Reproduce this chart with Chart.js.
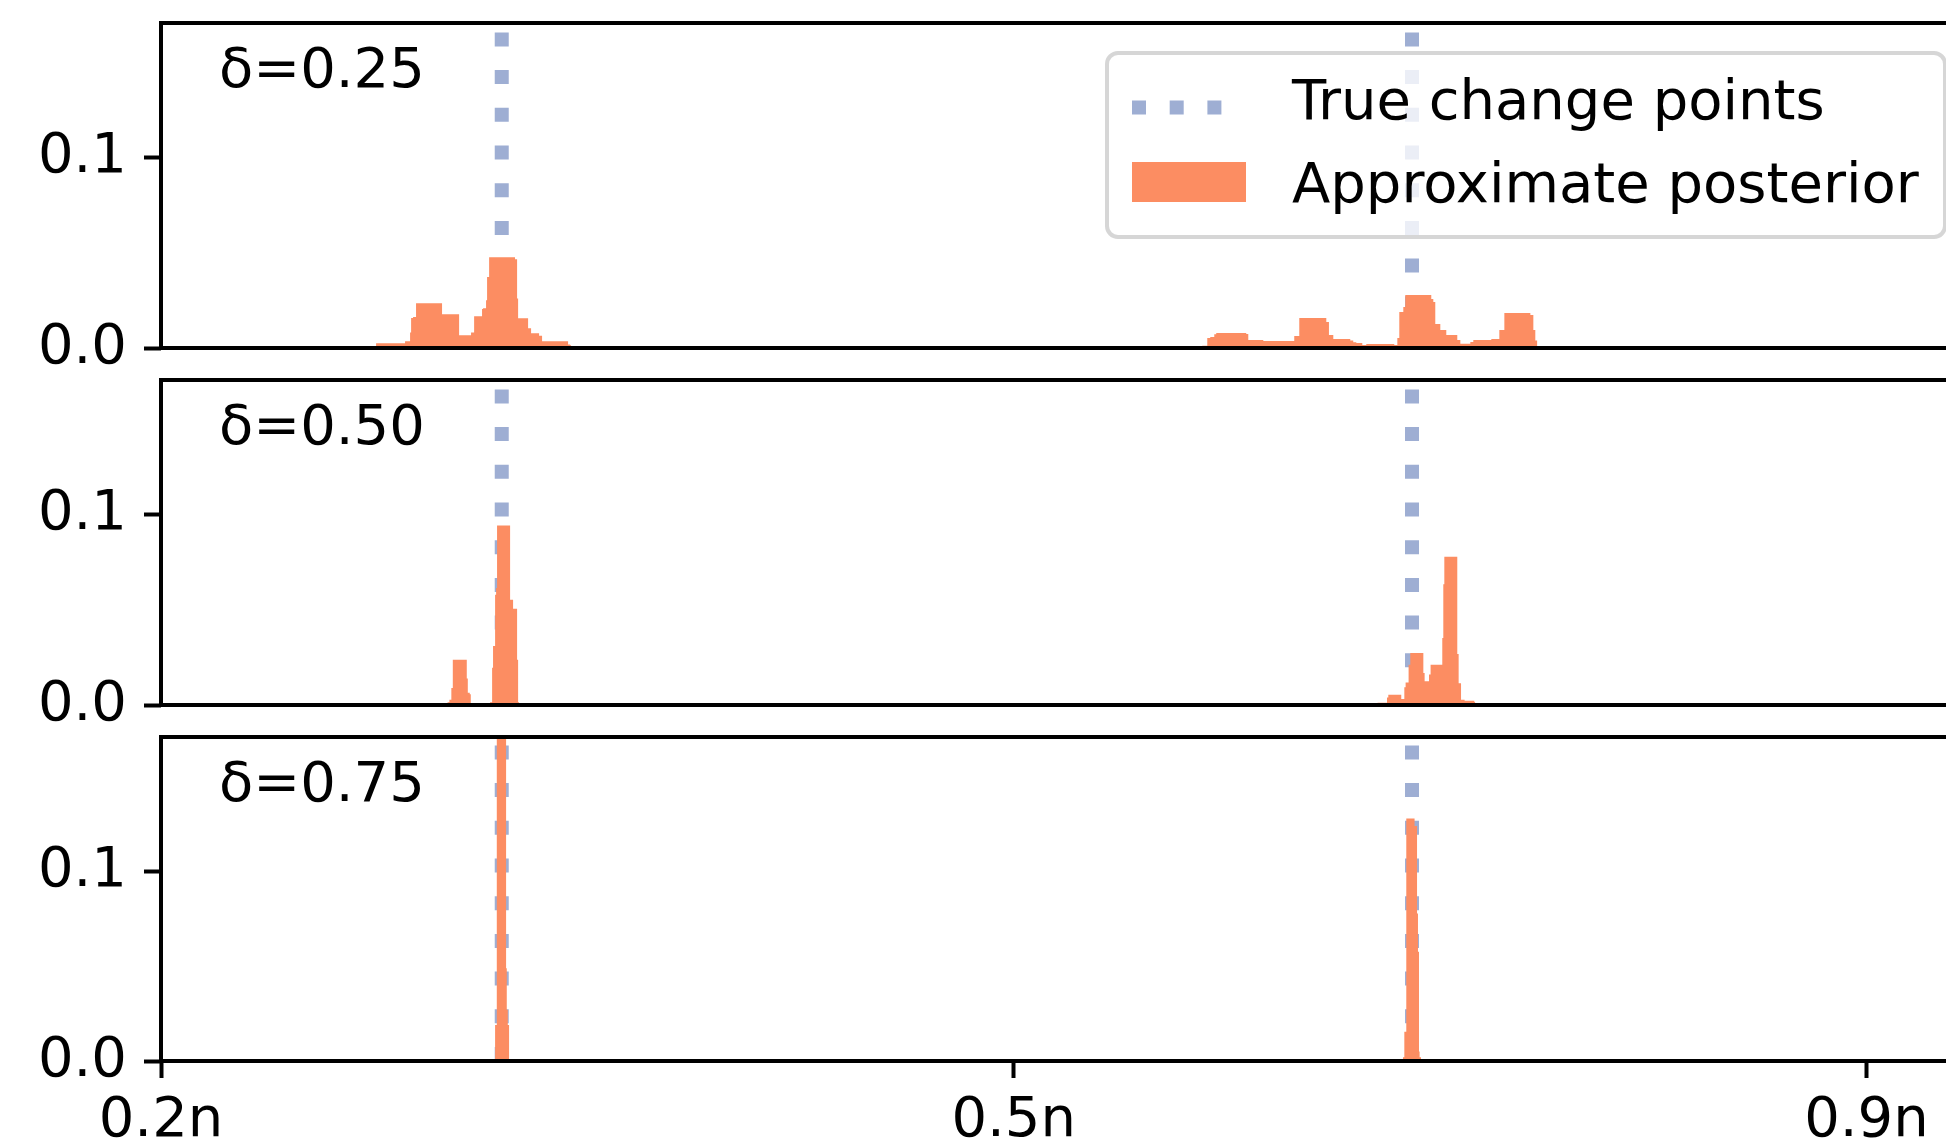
<!DOCTYPE html>
<html>
<head>
<meta charset="utf-8">
<script src="https://cdn.jsdelivr.net/npm/chart.js@4.4.1/dist/chart.umd.min.js"></script>
<style>
  html, body { margin: 0; padding: 0; background: #fff; overflow: hidden; width: 1946px; height: 1145px; }
  .panel { position: absolute; left: 0; }
</style>
</head>
<body>
<div class="panel" style="top:-37px"><canvas id="p0" width="1973" height="445"></canvas></div>
<div class="panel" style="top:320px"><canvas id="p1" width="1973" height="445"></canvas></div>
<div class="panel" style="top:677px"><canvas id="p2" width="1973" height="484"></canvas></div>
<script>
// x axis runs in position units: 0.2n -> 0, 0.5n -> 100, 0.9n -> 200
const xTickPos = [0, 100, 200];
const xTickLabels = ['0.2n', '0.5n', '0.9n'];
const yTicks = [0.0, 0.1];
const deltaLabels = ['δ=0.25', 'δ=0.50', 'δ=0.75'];
const changePoints = [39.96, 146.71];

// histogram bin edges and heights (last height closes the step at 0)
const edges25 = [25.22, 28.62, 29.21, 29.33, 29.56, 29.91, 32.96, 34.96, 36.36, 36.72, 37.65, 37.77, 38.12, 38.24, 38.48,
  41.52, 41.76, 41.88, 43.05, 43.40, 44.34, 44.69, 47.74, 47.98, 48.09,
  122.11, 122.70, 123.05, 123.52, 123.75, 127.27, 127.51, 129.27, 132.90, 133.49, 136.66, 136.97, 137.48, 139.47,
  139.82, 140.18, 140.88, 141.35, 144.63, 144.99, 145.22, 145.69, 145.92, 148.97, 149.21, 149.44, 150.03, 150.73,
  152.02, 152.38, 153.55, 153.90, 156.01, 156.95, 157.54, 160.59, 160.94, 161.17, 161.41];
const post25 = [0.0025, 0.0035, 0.0082, 0.0158, 0.0163, 0.0235, 0.0177, 0.0067, 0.0082, 0.0167, 0.0205, 0.0209, 0.0251, 0.0374,
  0.0477, 0.0467, 0.026, 0.0156, 0.0104, 0.0077, 0.0065, 0.0035, 0.0019, 0.0014, 0,
  0.0012, 0.0053, 0.0058, 0.0072, 0.0079, 0.0074, 0.0042, 0.0037, 0.0063, 0.0158, 0.0137, 0.0068, 0.0047, 0.0039,
  0.003, 0.0026, 0.0016, 0.0021, 0.0016, 0.0053, 0.019, 0.0216, 0.0279, 0.0258, 0.0242, 0.0126, 0.0095,
  0.0068, 0.0042, 0.0023, 0.0032, 0.0042, 0.0047, 0.0095, 0.0184, 0.0174, 0.0095, 0.0039, 0];

const edges50 = [33.58, 33.82, 34.05, 34.22, 35.86, 35.98, 36.21, 36.33,
  38.59, 38.83, 38.94, 39.18, 39.30, 39.41, 40.94, 41.29, 41.76, 41.88, 41.99,
  142.67, 143.78, 143.93, 145.45, 145.81, 145.96, 146.31, 146.51, 148.04, 148.19, 148.70, 148.89, 150.26,
  150.38, 150.50, 152.02, 152.18, 152.46, 152.88, 154.02, 154.13];
const post50 = [0.0014, 0.0028, 0.0089, 0.0238, 0.0139, 0.0065, 0.0056, 0,
  0.0014, 0.0196, 0.031, 0.058, 0.0616, 0.0944, 0.0554, 0.0507, 0.0238, 0.0014, 0,
  0.0012, 0.004, 0.0054, 0.0032, 0.0093, 0.0119, 0.0212, 0.0274, 0.0168, 0.0125, 0.016, 0.0212, 0.0353,
  0.0635, 0.078, 0.0268, 0.0114, 0.0028, 0.0023, 0.0016, 0];

const edges75 = [39.18, 39.38, 40.47, 40.55, 40.67, 40.82,
  145.65, 145.81, 146.04, 147.01, 147.30, 147.41, 147.53, 147.60, 147.77];
const post75 = [0.019, 0.2, 0.0489, 0.027, 0.019, 0,
  0.002, 0.0155, 0.128, 0.124, 0.0778, 0.0576, 0.005, 0.002, 0];

const yMax = 0.171;
const xMax = 212.5;
const orange = '#fc8d62';
const blue = 'rgba(141, 160, 203, 0.85)';

Chart.defaults.font.family = "'DejaVu Sans', sans-serif";
Chart.defaults.font.size = 56;
Chart.defaults.color = '#000';

const roundRect = (ctx, x, y, w, h, r) => {
  ctx.beginPath();
  ctx.moveTo(x + r, y);
  ctx.arcTo(x + w, y, x + w, y + h, r);
  ctx.arcTo(x + w, y + h, x, y + h, r);
  ctx.arcTo(x, y + h, x, y, r);
  ctx.arcTo(x, y, x + w, y, r);
  ctx.closePath();
};

const drawLegend = (chart) => {
  const { ctx, chartArea: a } = chart;
  const sets = chart.data.datasets;
  const left = a.right - 866;
  const top = a.top + 30;
  roundRect(ctx, left, top, a.right - 28 - left, 184, 11);
  ctx.fillStyle = 'rgba(255, 255, 255, 0.8)';
  ctx.fill();
  ctx.lineWidth = 4;
  ctx.strokeStyle = 'rgba(204, 204, 204, 0.8)';
  ctx.stroke();

  // dotted handle
  ctx.save();
  ctx.strokeStyle = blue;
  ctx.lineWidth = 14;
  ctx.lineCap = 'butt';
  ctx.setLineDash([14, 23.7]);
  ctx.beginPath();
  ctx.moveTo(left + 25, top + 54.5);
  ctx.lineTo(left + 136, top + 54.5);
  ctx.stroke();
  ctx.restore();

  ctx.fillStyle = orange;
  ctx.fillRect(left + 25, top + 109, 114, 40);

  ctx.fillStyle = '#000';
  ctx.textBaseline = 'alphabetic';
  ctx.textAlign = 'left';
  ctx.fillText(sets[1].label, left + 185, top + 66);
  ctx.fillText(sets[0].label, left + 185, top + 149);
};

const panelDecor = {
  id: 'panelDecor',
  afterDraw(chart, args, opts) {
    const { ctx, chartArea: a } = chart;
    ctx.save();
    ctx.strokeStyle = '#000';
    ctx.lineWidth = 4;
    ctx.strokeRect(a.left, a.top, a.right - a.left, a.bottom - a.top);
    ctx.font = "56px 'DejaVu Sans'";
    ctx.fillStyle = '#000';
    ctx.textBaseline = 'alphabetic';
    ctx.fillText(opts.label, a.left + 58, a.top + 64);
    if (opts.legend) drawLegend(chart);
    ctx.restore();
  }
};

const panels = [
  { id: 'p0', label: deltaLabels[0], edges: edges25, post: post25, showX: false, legend: true },
  { id: 'p1', label: deltaLabels[1], edges: edges50, post: post50, showX: false, legend: false },
  { id: 'p2', label: deltaLabels[2], edges: edges75, post: post75, showX: true, legend: false },
];

const makeChart = (p) => {
  new Chart(p.id, {
    type: 'line',
    data: {
      datasets: [
        {
          label: 'Approximate posterior',
          data: p.edges.map((x, i) => ({ x, y: p.post[i] })),
          stepped: true,
          fill: 'origin',
          backgroundColor: orange,
          borderColor: 'transparent',
          borderWidth: 0,
          pointRadius: 0,
        },
        ...changePoints.map((cp) => ({
          label: 'True change points',
          data: [{ x: cp, y: 0 }, { x: cp, y: yMax }],
          borderColor: blue,
          borderWidth: 14,
          borderDash: [14, 23.7],
          borderCapStyle: 'butt',
          pointRadius: 0,
          fill: false,
        })),
      ],
    },
    options: {
      responsive: false,
      animation: false,
      devicePixelRatio: 1,
      events: [],
      layout: { padding: { top: 60, bottom: p.showX ? 0 : 60, left: 0, right: 0 } },
      plugins: {
        legend: { display: false },
        tooltip: { enabled: false },
        panelDecor: { label: p.label, legend: p.legend },
      },
      scales: {
        x: {
          type: 'linear',
          display: p.showX,
          min: 0,
          max: xMax,
          afterBuildTicks: (s) => { s.ticks = xTickPos.map((value) => ({ value })); },
          afterFit: (s) => { s.height = p.showX ? 100 : 0; },
          ticks: {
            padding: 10,
            maxRotation: 0,
            autoSkip: false,
            callback: (v, i) => xTickLabels[i],
          },
          grid: { drawOnChartArea: false, tickLength: 17, tickWidth: 4, tickColor: '#000', color: '#000' },
          border: { display: false },
        },
        y: {
          type: 'linear',
          min: 0,
          max: yMax,
          afterBuildTicks: (s) => { s.ticks = yTicks.map((value) => ({ value })); },
          afterFit: (s) => { s.width = 161; },
          ticks: {
            padding: 17,
            callback: (v) => v.toFixed(1),
          },
          grid: { drawOnChartArea: false, tickLength: 17, tickWidth: 4, tickColor: '#000', color: '#000' },
          border: { display: false },
        },
      },
    },
    plugins: [panelDecor],
  });
};

panels.forEach(makeChart);
</script>
</body>
</html>
